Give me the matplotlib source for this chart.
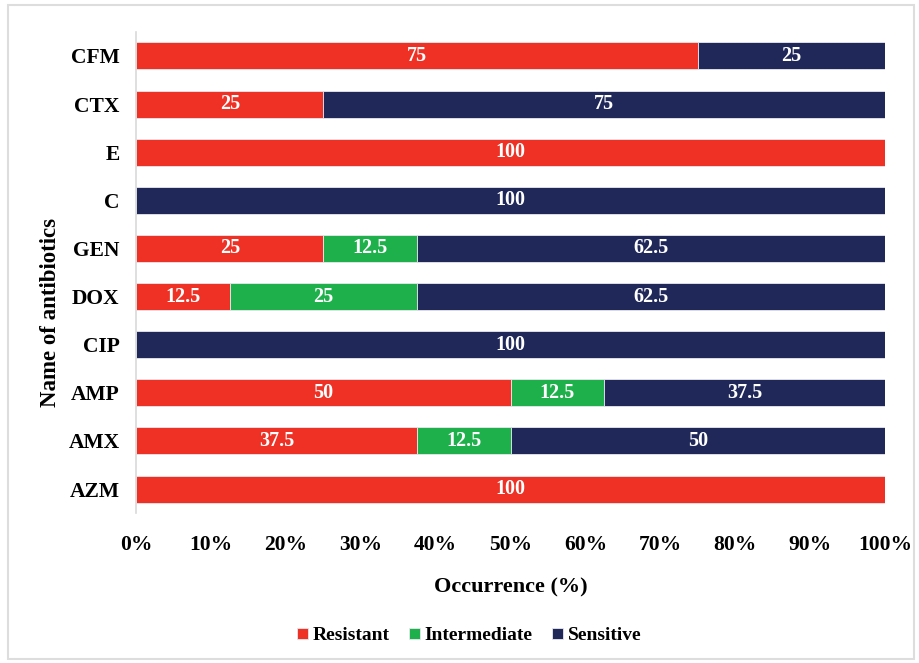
import matplotlib
matplotlib.use('Agg')
import matplotlib.pyplot as plt
from matplotlib.patches import Rectangle
from matplotlib.ticker import PercentFormatter
import numpy as np

plt.rcParams['font.family'] = 'Liberation Serif'
plt.rcParams['font.weight'] = 'bold'

antibiotics = ['AZM', 'AMX', 'AMP', 'CIP', 'DOX', 'GEN', 'C', 'E', 'CTX', 'CFM']
resistant = [100, 37.5, 50, 0, 12.5, 25, 0, 100, 25, 75]
intermediate = [0, 12.5, 12.5, 0, 25, 12.5, 0, 0, 0, 0]
sensitive = [0, 50, 37.5, 100, 62.5, 62.5, 100, 0, 75, 25]

series = [('Resistant', resistant, '#EE3124'),
          ('Intermediate', intermediate, '#1DB04B'),
          ('Sensitive', sensitive, '#1F2859')]

fig = plt.figure(figsize=(9.2, 6.63), dpi=100)
ax = fig.add_axes([0.148, 0.226, 0.814, 0.726])

# light frame round the whole chart
fig.patches.append(Rectangle((0.009, 0.006), 0.985, 0.986, transform=fig.transFigure,
                             fill=False, edgecolor='#DDDDDD', linewidth=1.5))

y = np.arange(len(antibiotics))
left = np.zeros(len(antibiotics))
for name, vals, col in series:
    vals = np.array(vals, dtype=float)
    bars = ax.barh(y, vals, left=left, height=0.56, color=col, label=name,
                   edgecolor='#E8E8F0', linewidth=0.6)
    for b, v in zip(bars, vals):
        if v > 0:
            txt = '%g' % v
            ax.text(b.get_x() + b.get_width() / 2, b.get_y() + b.get_height() / 2, txt,
                    ha='center', va='center', color='white', fontsize=14.5, fontweight='bold')
    left += vals

ax.set_xlim(0, 100)
ax.set_ylim(-0.5, len(antibiotics) - 0.5)
ax.set_yticks(y)
ax.set_yticklabels(antibiotics, fontsize=15.5, fontweight='bold')
ax.set_xticks(np.arange(0, 101, 10))
ax.xaxis.set_major_formatter(PercentFormatter(decimals=0))
for lbl in ax.get_xticklabels():
    lbl.set_fontsize(15.5)
    lbl.set_fontweight('bold')
ax.tick_params(axis='both', length=0)
ax.tick_params(axis='x', pad=16)
ax.tick_params(axis='y', pad=12)

for s in ['top', 'right', 'bottom']:
    ax.spines[s].set_visible(False)
ax.spines['left'].set_color('#D9D9D9')
ax.spines['left'].set_linewidth(1.2)

ax.set_xlabel('Occurrence (%)', fontsize=16, fontweight='bold', labelpad=16)
ax.set_ylabel('Name of antibiotics', fontsize=16.5, fontweight='bold')
ax.yaxis.set_label_coords(-0.101, 0.416)

ax.legend(loc='center', bbox_to_anchor=(0.445, -0.255), ncol=3, frameon=False,
          fontsize=14, handlelength=0.55, handleheight=0.55, handletextpad=0.25,
          columnspacing=1.0)

fig.savefig('out.png', dpi=100)
